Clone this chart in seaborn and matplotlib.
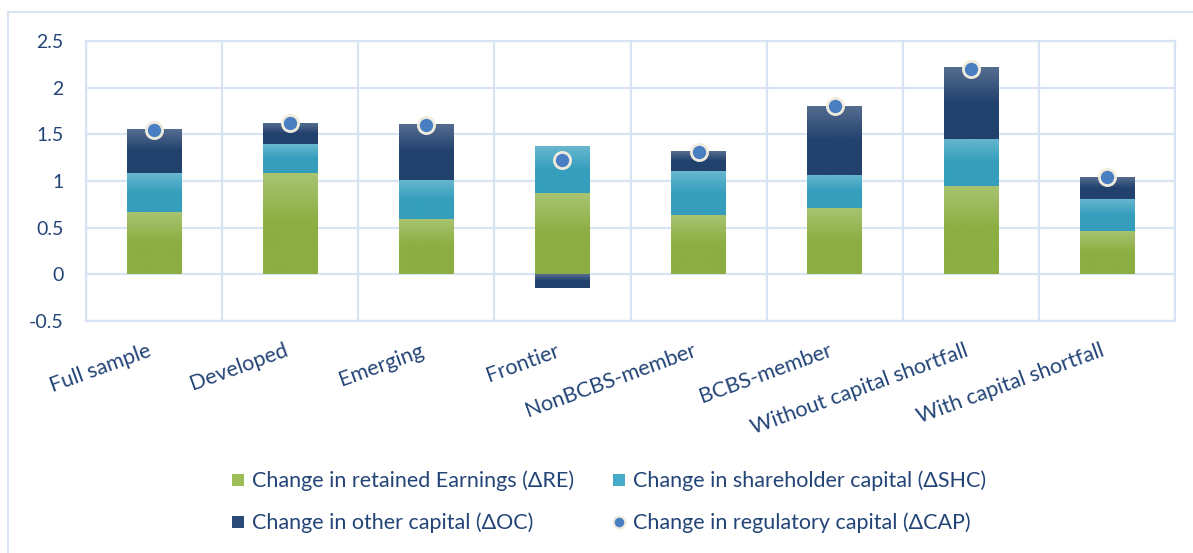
import numpy as np
import pandas as pd
import matplotlib
matplotlib.use("Agg")
import matplotlib.pyplot as plt
import seaborn as sns
from matplotlib.colors import LinearSegmentedColormap
from matplotlib.lines import Line2D
from matplotlib.patches import Rectangle

# ---------------- data ----------------
categories = ["Full sample", "Developed", "Emerging", "Frontier", "NonBCBS-member",
              "BCBS-member", "Without capital shortfall", "With capital shortfall"]
re_vals = [0.67, 1.085, 0.59, 0.87, 0.635, 0.71, 0.945, 0.465]
shc_vals = [0.415, 0.31, 0.42, 0.495, 0.47, 0.355, 0.505, 0.345]
oc_vals = [0.465, 0.225, 0.59, -0.15, 0.205, 0.735, 0.765, 0.235]
cap_vals = [1.55, 1.62, 1.60, 1.22, 1.31, 1.80, 2.20, 1.04]
y_ticks = [-0.5, 0, 0.5, 1, 1.5, 2, 2.5]
legend_labels = ["Change in retained Earnings (\u0394RE)",
                 "Change in shareholder capital (\u0394SHC)",
                 "Change in other capital (\u0394OC)",
                 "Change in regulatory capital (\u0394CAP)"]

# ---------------- style ----------------
sns.set_theme(style="white")
plt.rcParams["font.family"] = ["Lato", "DejaVu Sans"]
TXT = "#234477"
GRID = "#D8E4F3"

green = ("#8CAE42", "#A9C472")
teal = ("#359EBC", "#69B8CF")
navy = ("#21416E", "#566D90")

fig = plt.figure(figsize=(11.93, 5.53), dpi=100)
W, H = 1193, 553
ax = fig.add_axes([86 / W, 1 - 321 / H, (1175 - 86) / W, (321 - 41) / H])

# outer chart-area frame (cropped on right/bottom)
fig.patches.append(Rectangle((8 / W, -0.05), 1.2, 1 - 12 / H + 0.05, transform=fig.transFigure,
                             fill=False, edgecolor=GRID, linewidth=1.5, zorder=0))

re_a = np.array(re_vals)
shc_a = np.array(shc_vals)
oc_a = np.array(oc_vals)
bottoms = [np.zeros(len(categories)), re_a, np.where(oc_a >= 0, re_a + shc_a, 0.0)]
series = [(re_vals, green), (shc_vals, teal), (oc_vals, navy)]

bar_groups = []
for (vals, cols), bot in zip(series, bottoms):
    sns.barplot(x=categories, y=vals, order=categories, color=cols[0], width=0.4,
                saturation=1, errorbar=None, linewidth=0, ax=ax, zorder=2)
    cont = ax.containers[-1]
    for bar, b in zip(cont, bot):
        bar.set_y(b)
    bar_groups.append((cont, cols))

# gradient fills on each segment
grad = np.linspace(0, 1, 256).reshape(-1, 1)
for cont, cols in bar_groups:
    cmap = LinearSegmentedColormap.from_list("g", [cols[0], cols[0], cols[1]])
    for bar in cont:
        x0 = bar.get_x()
        x1 = x0 + bar.get_width()
        y0 = bar.get_y()
        y1 = y0 + bar.get_height()
        if y1 < y0:
            y0, y1 = y1, y0
        ax.imshow(grad, extent=[x0, x1, y0, y1], origin="lower", aspect="auto",
                  cmap=cmap, zorder=2.5, interpolation="bilinear")

sns.scatterplot(x=categories, y=cap_vals, ax=ax, s=135, color="#4A7EC2",
                edgecolor="#EFEBDD", linewidth=2.0, zorder=6, legend=False)

ax.set_xlim(-0.5, len(categories) - 0.5)
ax.set_ylim(-0.5, 2.5)
ax.set_aspect("auto")

# grid
ax.set_yticks(y_ticks)
ax.set_yticklabels([f"{v:g}" for v in y_ticks], color=TXT, fontsize=14)
ax.set_xticks(range(len(categories)))
ax.set_xticklabels(categories, rotation=20, ha="right", va="top", color=TXT, fontsize=15.5)
ax.set_xticks(np.arange(-0.5, len(categories)), minor=True)
ax.set_axisbelow(True)
ax.grid(axis="y", which="major", color=GRID, linewidth=1.6, zorder=0)
ax.grid(axis="x", which="minor", color=GRID, linewidth=1.6, zorder=0)
ax.grid(axis="x", which="major", visible=False)
ax.tick_params(axis="y", length=0, pad=16)
ax.tick_params(axis="x", which="both", length=0, pad=14)
ax.set_xlabel("")
ax.set_ylabel("")
for sp in ax.spines.values():
    sp.set_visible(True)
    sp.set_color(GRID)
    sp.set_linewidth(1.6)

# legend
handles = [
    Line2D([], [], linestyle="none", marker="s", markersize=9, markerfacecolor="#9DBE57", markeredgewidth=0),
    Line2D([], [], linestyle="none", marker="s", markersize=9, markerfacecolor="#2A4A78", markeredgewidth=0),
    Line2D([], [], linestyle="none", marker="s", markersize=9, markerfacecolor="#48ABC7", markeredgewidth=0),
    Line2D([], [], linestyle="none", marker="o", markersize=8.5, markerfacecolor="#4A7EC2",
           markeredgecolor="#EFEBDD", markeredgewidth=1.6),
]
labels = [legend_labels[0], legend_labels[2], legend_labels[1], legend_labels[3]]
leg = fig.legend(handles, labels, ncol=2, loc="center", bbox_to_anchor=(0.510, 0.092),
                 frameon=False, fontsize=15.5, handlelength=0.7, handletextpad=0.3,
                 columnspacing=1.75, labelspacing=1.0, labelcolor=TXT)

fig.savefig("out.png", dpi=100)
